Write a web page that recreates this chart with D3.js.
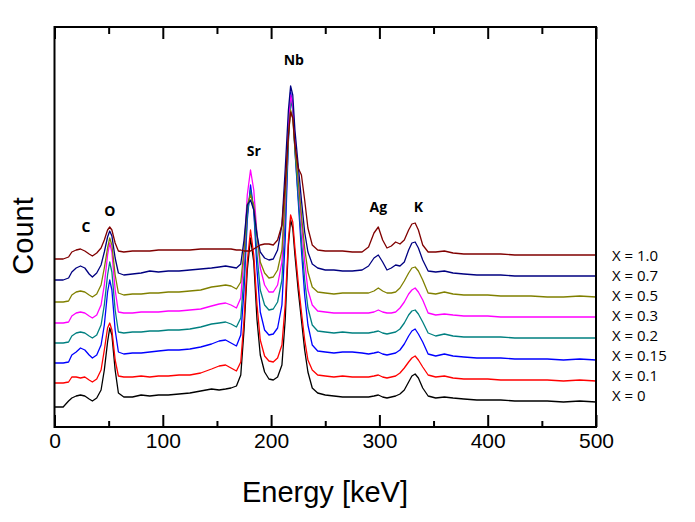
<!DOCTYPE html>
<html><head><meta charset="utf-8">
<script src="https://cdn.jsdelivr.net/npm/d3@7"></script>
<style>body{margin:0;background:#fff}</style>
</head><body>
<svg id="chart" width="695" height="522"></svg>
<script>
// ---- data ----
const energy = [0,8,13,16,20,24,28,32,35,39, 43,46,49,51,53,56,59,64,72,80,
  88,96,105,115,125,135,145,152,158,163, 168,172,175,178,181,184,187,190,194,198,
  202,206,210,213,216,218,220,222,225,228, 231,234,238,243,250,258,266,275,284,290,
  295,299,303,307,311,315,319,323,327,330, 333,336,340,345,352,360,368,378,390,400,
  412,425,440,455,470,485,500];

const countX0 = [20,20,26,29,31,32,31,28,26,29, 37,57,85,99,92,57,34,30,30,32,
  31,32,32,33,34,36,38,37,38,39, 41,52,97,157,189,165,107,72,55,48,
  47,50,62,107,182,207,199,172,137,107, 77,55,39,34,32,31,30,30,30,30,
  31,32,30,29,30,31,33,37,45,51, 53,49,39,31,29,30,29,28,27,27,
  27,26,26,26,25,26,25];
const countX01 = [44,44,45,50,50,49,50,47,45,48, 57,77,99,104,97,67,51,50,50,51,
  50,51,51,52,52,54,58,61,62,59, 56,65,107,165,197,172,122,87,71,66,
  65,69,82,122,187,212,205,179,145,115, 87,67,57,52,51,50,51,50,50,50,
  51,52,50,49,50,51,54,59,65,69, 71,67,60,52,50,51,49,48,48,48,
  47,47,47,47,46,47,46];
const countX015 = [64,64,65,72,75,79,77,72,69,72, 82,102,135,147,137,97,75,73,74,74,
  75,76,77,77,78,80,83,86,87,84, 81,92,137,207,242,217,157,115,97,92,
  93,99,122,187,287,335,322,277,227,177, 132,102,82,76,75,74,75,75,74,73,
  74,75,73,72,73,74,77,83,91,96, 98,93,85,73,71,73,71,70,69,69,
  69,68,68,68,67,68,67];
const countX02 = [84,84,85,91,94,95,94,91,89,92, 102,122,152,165,155,117,95,94,95,95,
  96,96,97,97,98,100,103,104,105,103, 100,109,152,212,237,217,172,137,122,117,
  118,125,147,207,287,327,317,277,232,187, 147,119,102,96,95,94,95,94,94,94,
  95,96,94,93,94,95,98,104,112,116, 117,113,105,94,91,93,91,90,90,90,
  90,89,89,89,89,89,89];
const countX03 = [104,104,105,111,114,115,114,111,109,112, 122,142,172,184,175,137,115,114,114,115,
  115,115,116,116,117,118,121,123,124,122, 119,129,172,232,257,237,192,159,142,135,
  135,142,165,227,302,332,322,287,247,205, 165,137,122,116,115,114,114,114,114,114,
  115,117,115,114,114,115,119,125,133,137, 139,135,127,114,112,113,112,111,111,111,
  110,110,110,110,110,110,110];
const countX05 = [125,125,126,132,135,136,135,132,130,133, 142,159,179,189,182,152,134,132,133,133,
  134,134,135,135,136,137,140,141,142,141, 138,145,177,222,232,222,192,165,154,149,
  150,157,177,232,292,317,309,279,247,212, 179,155,140,135,134,133,134,134,134,134,
  136,139,136,134,134,135,139,146,154,159, 160,156,147,134,133,135,133,132,132,132,
  131,131,131,130,130,131,130];
const countX07 = [147,147,149,155,159,161,159,153,150,154, 162,175,190,196,191,169,154,152,153,154,
  156,155,156,156,157,158,159,160,161,160, 159,163,187,222,227,217,192,175,169,167,
  168,177,202,257,317,341,332,297,262,227, 195,175,163,159,157,157,156,156,157,161,
  169,172,165,157,159,162,161,165,177,184, 185,179,167,156,155,156,154,153,152,152,
  152,151,151,151,151,151,151];
const countX10 = [168,168,170,175,177,178,176,173,171,174, 179,187,197,200,197,184,176,175,176,176,
  176,177,177,177,177,178,178,178,178,178, 177,177,176,176,176,178,180,182,183,183,
  182,187,202,242,292,315,309,282,259,252, 227,199,182,177,176,176,176,175,175,180,
  194,200,187,179,181,185,183,187,197,203, 204,197,182,175,175,176,174,173,173,173,
  173,172,172,172,172,172,172];

const seriesNames = ["X = 1.0","X = 0.7","X = 0.5","X = 0.3","X = 0.2","X = 0.15","X = 0.1","X = 0"];
const seriesValues = [countX10,countX07,countX05,countX03,countX02,countX015,countX01,countX0];
const seriesColors = ["#800000","#000080","#808000","#ff00ff","#008080","#0000ff","#ff0000","#000000"];

const peakNames = ["C","O","Sr","Nb","Ag","K"];
const peakEnergies = [29,51,184,221,299,336];
const peakCounts = [199,215,275,366,219,219];

const xTicks = [0,100,200,300,400,500];
const xMinorTicks = [50,150,250,350,450];

// ---- layout ----
const svg = d3.select("#chart");
const L = 54.5, R = 596, T = 27, B = 427;
const x = d3.scaleLinear().domain([0,500]).range([L,R]);
const y = d3.scaleLinear().domain([0,400]).range([B,T]);

// traces (black drawn first)
const line = d3.line().x((d,i)=>x(energy[i])).y(d=>y(d)).curve(d3.curveLinear);
const order = d3.range(seriesValues.length).reverse();
svg.append("g").selectAll("path").data(order).join("path")
  .attr("d", i => line(seriesValues[i]))
  .attr("fill","none")
  .attr("stroke", i => seriesColors[i])
  .attr("stroke-width",1.3)
  .attr("stroke-linejoin","round");

// frame
svg.append("rect").attr("x",L).attr("y",T).attr("width",R-L).attr("height",B-T)
  .attr("fill","none").attr("stroke","#000").attr("stroke-width",2);

// axes
const axB = d3.axisBottom(x).tickValues(xTicks).tickSizeInner(-12).tickSizeOuter(0).tickPadding(6).tickFormat(d3.format("d"));
const gB = svg.append("g").attr("transform",`translate(0,${B})`).call(axB);
gB.select(".domain").remove();
gB.selectAll("line").attr("stroke-width",2);
gB.selectAll("text").attr("font-family","'Liberation Sans', Arial, sans-serif").attr("font-size",21).attr("fill","#000");
const axBm = d3.axisBottom(x).tickValues(xMinorTicks).tickSizeInner(-6).tickSizeOuter(0).tickFormat("");
const gBm = svg.append("g").attr("transform",`translate(0,${B})`).call(axBm);
gBm.select(".domain").remove(); gBm.selectAll("line").attr("stroke-width",2);

const axT = d3.axisTop(x).tickValues(xTicks).tickSizeInner(-12).tickSizeOuter(0).tickFormat("");
const gT = svg.append("g").attr("transform",`translate(0,${T})`).call(axT);
gT.select(".domain").remove(); gT.selectAll("line").attr("stroke-width",2);
const axTm = d3.axisTop(x).tickValues(xMinorTicks).tickSizeInner(-7).tickSizeOuter(0).tickFormat("");
const gTm = svg.append("g").attr("transform",`translate(0,${T})`).call(axTm);
gTm.select(".domain").remove(); gTm.selectAll("line").attr("stroke-width",2);

// axis titles
svg.append("text").attr("x",325).attr("y",502).attr("text-anchor","middle")
  .attr("font-family","'Liberation Sans', Arial, sans-serif").attr("font-size",29).text("Energy [keV]");
svg.append("text").attr("transform","translate(33,236) rotate(-90)").attr("text-anchor","middle")
  .attr("font-family","'Liberation Sans', Arial, sans-serif").attr("font-size",29).text("Count");

// peak labels
svg.append("g").selectAll("text").data(peakNames).join("text")
  .attr("x",(d,i)=>x(peakEnergies[i])).attr("y",(d,i)=>y(peakCounts[i]))
  .attr("text-anchor","middle").attr("dominant-baseline","middle")
  .attr("font-family","'Open Sans', sans-serif").attr("font-weight",700).attr("font-size",14)
  .text(d=>d);

// series labels
svg.append("g").selectAll("text").data(seriesNames).join("text")
  .attr("x",612).attr("y",(d,i)=>257+20*i)
  .attr("dominant-baseline","middle")
  .attr("font-family","'Open Sans', sans-serif").attr("font-size",15)
  .text(d=>d);
</script>
</body></html>
